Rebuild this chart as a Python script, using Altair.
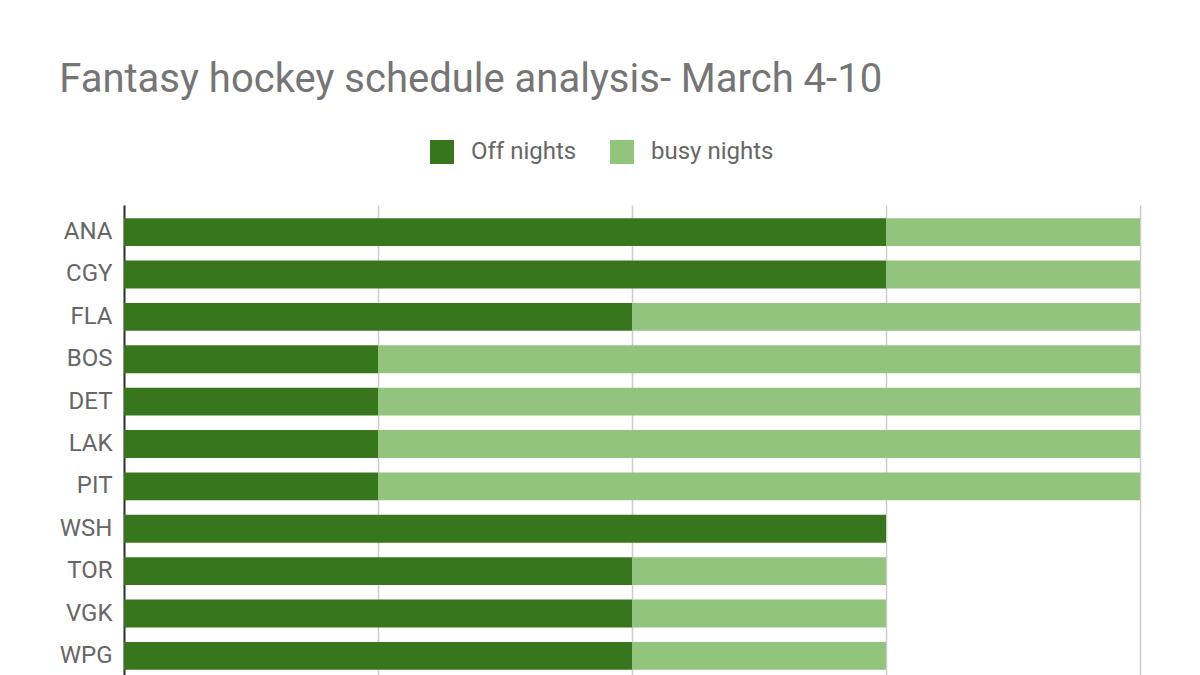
import pandas as pd
import altair as alt

teams = ["ANA", "CGY", "FLA", "BOS", "DET", "LAK", "PIT", "WSH", "TOR", "VGK", "WPG"]
off_nights = [3, 3, 2, 1, 1, 1, 1, 3, 2, 2, 2]
busy_nights = [1, 1, 2, 3, 3, 3, 3, 0, 1, 1, 1]
series = ["Off nights", "busy nights"]
colors = ["#38761d", "#93c47d"]

rows = []
for team, off, busy in zip(teams, off_nights, busy_nights):
    rows.append({"team": team, "kind": series[0], "nights": off, "k": 0})
    rows.append({"team": team, "kind": series[1], "nights": busy, "k": 1})
df = pd.DataFrame(rows)

chart = alt.Chart(df).mark_bar().encode(
    y=alt.Y("team:N", sort=teams, title=None,
            scale=alt.Scale(paddingInner=0.34, paddingOuter=0.31),
            axis=alt.Axis(labelFontSize=24, labelColor="#666666", labelFont="Roboto",
                          labelPadding=12, ticks=False, domainColor="#333333",
                          domainWidth=2, grid=False)),
    x=alt.X("nights:Q", stack="zero", title=None,
            scale=alt.Scale(domain=[0, 4], nice=False),
            axis=alt.Axis(labels=False, ticks=False, domain=False, tickCount=4,
                          gridColor="#cccccc", gridWidth=1.5)),
    color=alt.Color("kind:N", scale=alt.Scale(domain=series, range=colors),
                    legend=alt.Legend(title=None, orient="none", direction="horizontal",
                                      legendX=306, legendY=-65, symbolType="square",
                                      symbolSize=576, symbolStrokeWidth=0,
                                      labelFontSize=24, labelColor="#666666",
                                      labelFont="Roboto", labelOffset=17,
                                      columnPadding=33)),
    order=alt.Order("k:Q"),
).properties(
    width=1016,
    height=478,
    padding={"left": 51, "top": 52, "right": 40, "bottom": 10},
    title=alt.TitleParams("Fantasy hockey schedule analysis- March 4-10", anchor="start",
                          fontSize=40, font="Roboto", fontWeight="normal",
                          color="#757575", offset=40),
).configure_view(stroke=None)

chart.save("out.html", embed_options={"renderer": "svg", "actions": False})
